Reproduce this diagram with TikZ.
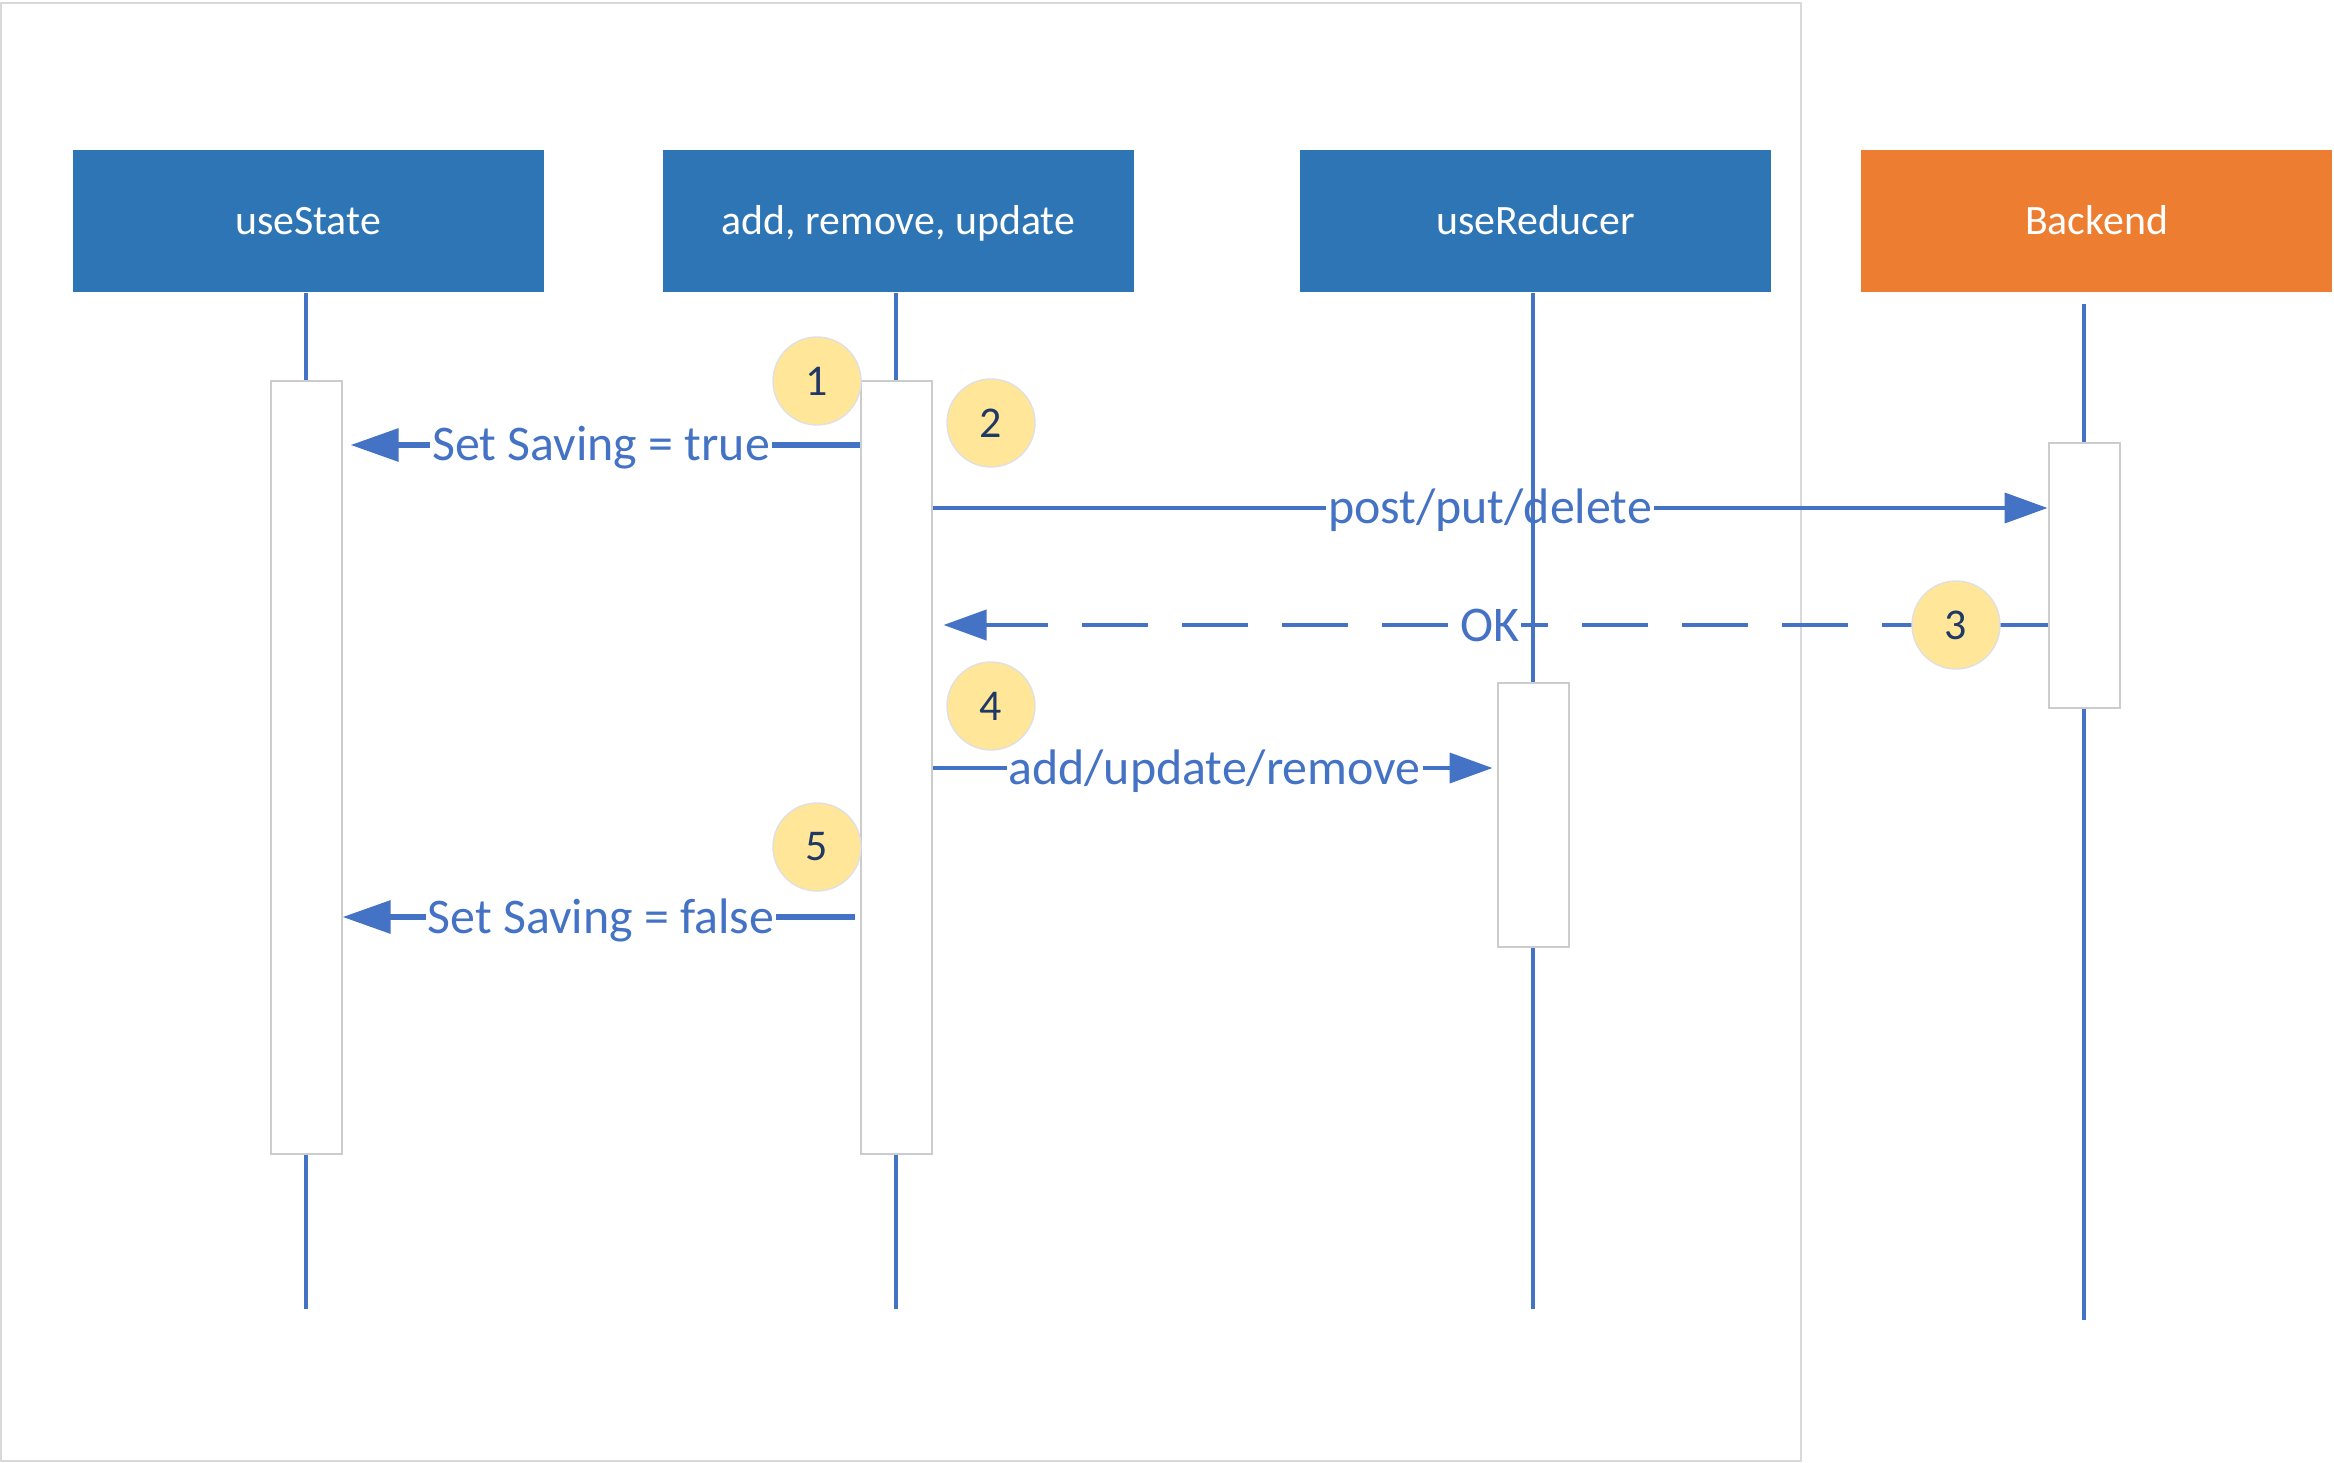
\documentclass[tikz,border=0pt]{standalone}
\usepackage{fontspec}
\setmainfont{Carlito}
\usetikzlibrary{arrows.meta}
\definecolor{hdrblue}{HTML}{2E75B6}
\definecolor{hdrorange}{HTML}{ED7D31}
\definecolor{msgblue}{HTML}{4472C4}
\definecolor{stepfill}{HTML}{FFE699}
\definecolor{stepnum}{HTML}{203864}
\begin{document}
\begin{tikzpicture}
		[	x=0.1mm,y=-0.1mm,
		head/.style={rectangle,fill=hdrblue,text=white,minimum width=47.1mm,minimum height=14.2mm,font=\fontsize{11.9}{14}\selectfont,text height=2.7mm,text depth=0pt},
		act/.style={rectangle,draw=black!20,fill=white,minimum width=7.1mm,inner sep=0pt,line width=0.2mm},
		life/.style={draw=msgblue,line width=0.35mm},
		msg/.style={draw=msgblue,line width=0.4mm,-{Triangle[length=4.3mm,width=3mm]}},
		setmsg/.style={msg,line width=0.6mm,-{Triangle[length=4.8mm,width=3.2mm]}},
		lbl/.style={fill=white,text=msgblue,inner xsep=0.5pt,inner ysep=1pt,font=\fontsize{14.2}{17}\selectfont,text height=3.2mm,text depth=0pt},
		num/.style={circle,fill=stepfill,draw=black!12,minimum size=8.8mm,inner sep=0pt,text=stepnum,font=\fontsize{12.5}{15}\selectfont}
		]
		\useasboundingbox (0,0) rectangle (2334,1463);
		\draw[draw=black!15,line width=0.2mm] (1,3) rectangle (1801,1461);

		\node[head] (state) at (308,221){useState};
		\node[head] (ops) at (898.5,221){add, remove, update};
		\node[head] (red) at (1535.5,221){useReducer};
		\node[head,fill=hdrorange] (back) at (2096.5,221){Backend};

		\node[act,minimum height=77.3mm] (actState) at (306,767.5){};
		\node[act,minimum height=77.3mm] (actOps) at (896,767.5){};
		\node[act,minimum height=26.4mm] (actRed) at (1533,815){};
		\node[act,minimum height=26.5mm] (actBack) at (2084,575.5){};

		\coordinate (stateEnd) at (306,1309);
		\coordinate (opsEnd) at (896,1309);
		\coordinate (redEnd) at (1533,1309);
		\coordinate (backEnd) at (2084,1320);

\draw[setmsg,shorten >=0.8mm] (actOps.west |- 0,445) -- node[lbl]{Set Saving = true} (actState.east |- 0,445);
\draw[msg] (actOps.east |- 0,508) -- node[lbl]{post/put/delete} (actBack.west |- 0,508);
\draw[msg,dash pattern=on 6.6mm off 3.4mm,shorten >=1.1mm] (actBack.west |- 0,625) -- node[lbl]{OK} (actOps.east |- 0,625);
\draw[msg,shorten >=0.4mm] (actOps.east |- 0,768) -- node[lbl]{add/update/remove} (actRed.west |- 0,768);
\draw[setmsg,shorten <=0.5mm] (actOps.west |- 0,917) -- node[lbl]{Set Saving = false} (actState.east |- 0,917);

		\draw[life] (state.south -| actState) -- (actState.north);
		\draw[life] (actState.south) -- (stateEnd);
		\draw[life] (ops.south -| actOps) -- (actOps.north);
		\draw[life] (actOps.south) -- (opsEnd);
		\draw[life] (red.south -| actRed) -- (actRed.north);
		\draw[life] (actRed.south) -- (redEnd);
		\draw[life] ([yshift=-1.1mm]back.south -| actBack) -- (actBack.north);
		\draw[life] (actBack.south) -- (backEnd);

		\node[num] (n1) at (817,381){1};
		\node[num] (n2) at (991,423){2};
		\node[num] (n3) at (1956,625){3};
		\node[num] (n4) at (991,706){4};
		\node[num] (n5) at (817,847){5};
	\end{tikzpicture}
\end{document}
